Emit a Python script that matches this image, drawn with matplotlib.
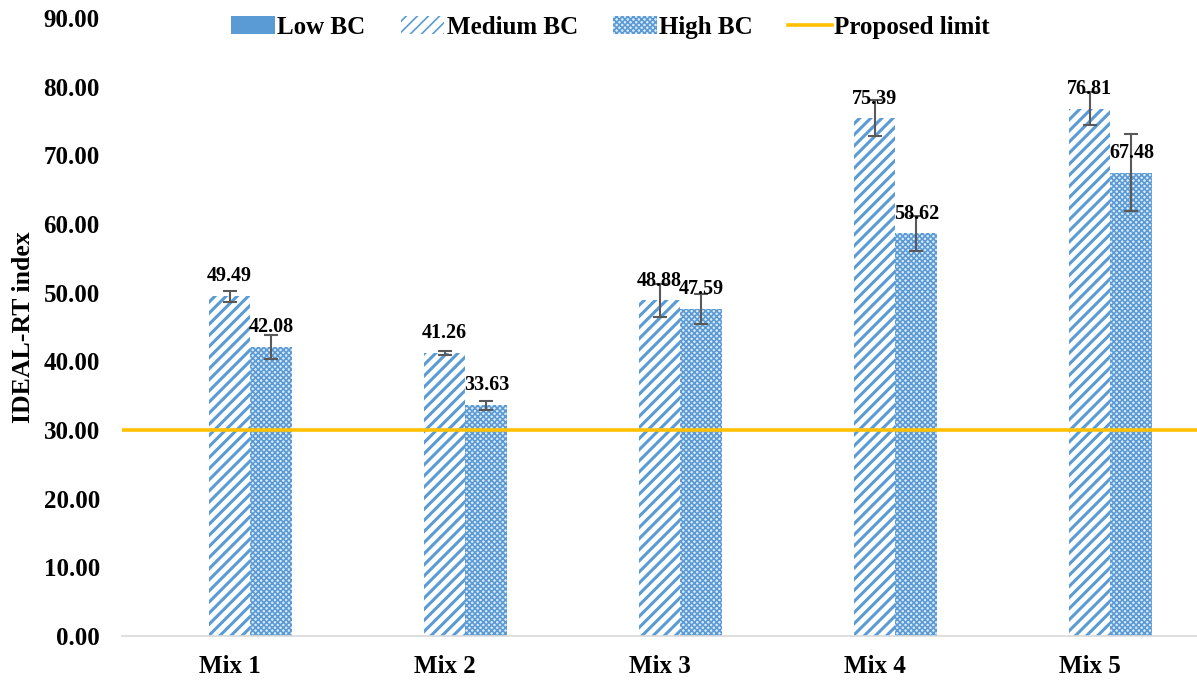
import matplotlib.pyplot as plt
import numpy as np

mixes = ["Mix 1", "Mix 2", "Mix 3", "Mix 4", "Mix 5"]
low_bc = [0, 0, 0, 0, 0]
medium_bc = [49.49, 41.26, 48.88, 75.39, 76.81]
high_bc = [42.08, 33.63, 47.59, 58.62, 67.48]
medium_err = [0.8, 0.3, 2.4, 2.6, 2.4]
high_err = [1.8, 0.65, 2.2, 2.5, 5.6]
proposed_limit = 30
yticks = np.arange(0, 91, 10)

blue = "#5B9BD5"
plt.rcParams["font.family"] = ["Liberation Serif", "DejaVu Serif"]
plt.rcParams["font.weight"] = "bold"

fig = plt.figure(figsize=(11.97, 6.81), dpi=100)
ax = fig.add_axes([122 / 1197, 45 / 681, 1 - 122 / 1197, 618 / 681])

x = np.arange(len(mixes))
w = 0.195

low = ax.bar(x - w, low_bc, w, color=blue, label="Low BC")

plt.rcParams["hatch.linewidth"] = 2.2
med = ax.bar(x, medium_bc, w, facecolor="white", edgecolor=blue, linewidth=0,
             hatch="///", label="Medium BC")
for p in med:
    if hasattr(p, "set_hatch_linewidth"):
        p.set_hatch_linewidth(2.2)

plt.rcParams["hatch.linewidth"] = 1.2
high = ax.bar(x + w, high_bc, w, facecolor="#DEEBF7", edgecolor=blue, linewidth=0,
              hatch="xxxxxx", label="High BC")
for p in high:
    if hasattr(p, "set_hatch_linewidth"):
        p.set_hatch_linewidth(1.2)

ax.errorbar(x, medium_bc, yerr=medium_err, fmt="none", ecolor="#595959",
            elinewidth=1.5, capsize=5, capthick=1.5, zorder=4)
ax.errorbar(x + w, high_bc, yerr=high_err, fmt="none", ecolor="#595959",
            elinewidth=1.5, capsize=5, capthick=1.5, zorder=4)

limit = ax.axhline(proposed_limit, color="#FFC000", linewidth=2.6, zorder=5,
                   label="Proposed limit")

for xs, vals in [(x, medium_bc), (x + w, high_bc)]:
    for xi, v in zip(xs, vals):
        ax.annotate(f"{v:.2f}", (xi, v), xytext=(0, 7), textcoords="offset points",
                    ha="center", va="bottom", fontsize=14.5, fontweight="bold", zorder=6)

ax.set_xlim(-0.5, len(mixes) - 0.5)
ax.set_ylim(0, 90)
ax.set_yticks(yticks)
ax.set_yticklabels([f"{t:.2f}" for t in yticks], fontsize=18, fontweight="bold")
ax.set_xticks(x)
ax.set_xticklabels(mixes, fontsize=18, fontweight="bold")
ax.tick_params(length=0)
ax.tick_params(axis="x", pad=14)
ax.tick_params(axis="y", pad=16)
ax.set_ylabel("IDEAL-RT index", fontsize=18.5, fontweight="bold", labelpad=6)

for s in ["top", "right", "left"]:
    ax.spines[s].set_visible(False)
ax.spines["bottom"].set_color("#D9D9D9")
ax.spines["bottom"].set_linewidth(1.2)

fig.legend(handles=[low, med, high, limit], loc="upper center",
           bbox_to_anchor=(0.51, 1.01), ncol=4, frameon=False,
           prop={"size": 18, "weight": "bold"}, handlelength=1.75,
           handleheight=0.7, handletextpad=0.1, columnspacing=1.4)

fig.savefig("out.png", dpi=100)
